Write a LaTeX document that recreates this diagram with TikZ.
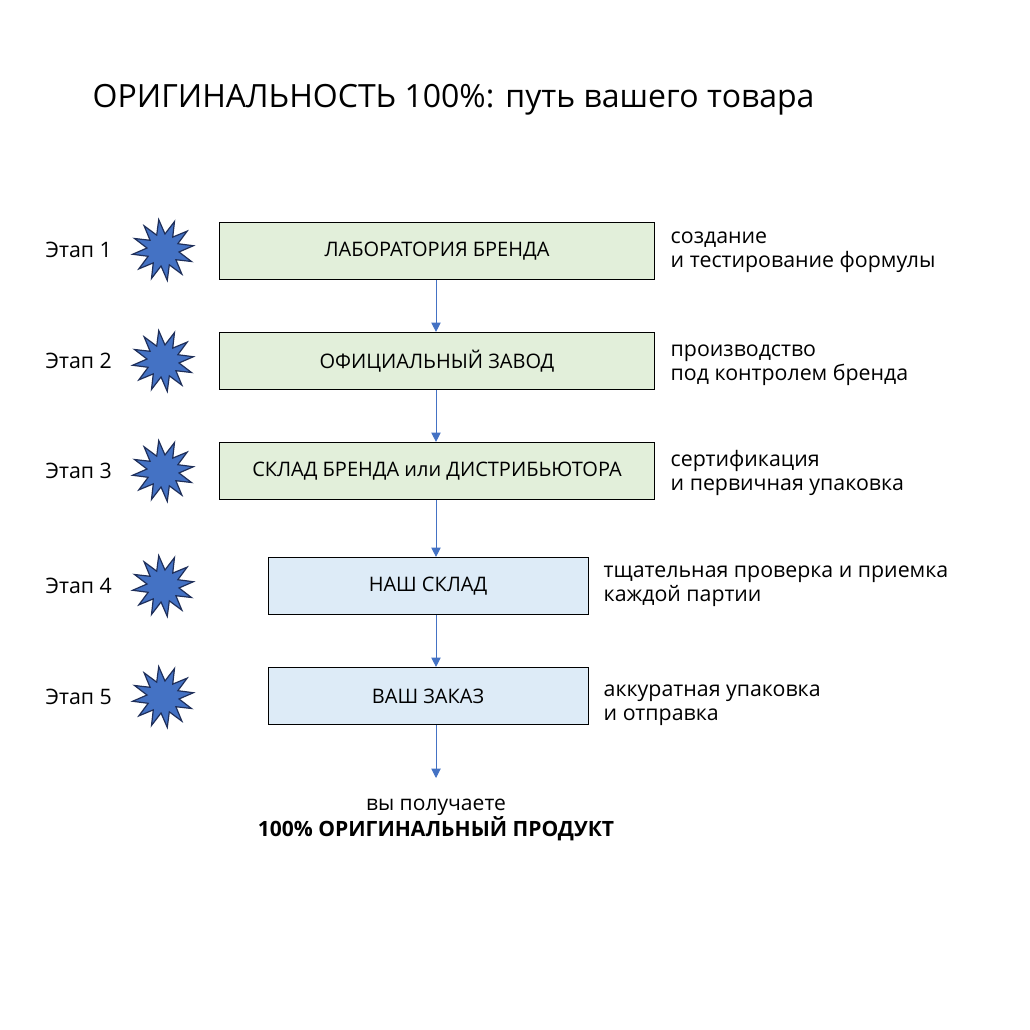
\documentclass[tikz,border=0pt]{standalone}
\usepackage{fontspec}
\setmainfont{Open Sans}
\usetikzlibrary{shapes.geometric,arrows.meta}
\definecolor{grn}{HTML}{E2EFDA}
\definecolor{blu}{HTML}{DDEBF7}
\definecolor{arr}{HTML}{4472C4}
\definecolor{navy}{HTML}{1F2F5A}
\begin{document}
\begin{tikzpicture}[x=0.75pt,y=-0.75pt,
  box/.style={draw=black,line width=0.6pt,font=\fontsize{15}{17}\selectfont,inner sep=0pt},
  gbox/.style={box,fill=grn,minimum width=326pt,minimum height=43pt},
  bbox/.style={box,fill=blu,minimum width=240pt,minimum height=43pt},
  burst/.style={star,star points=12,star point ratio=1.9,minimum size=46pt,inner sep=0pt,fill=arr,draw=navy,line width=0.9pt},
  lab/.style={anchor=west,align=left,font=\fontsize{16}{18}\selectfont},
  stage/.style={anchor=west,font=\fontsize{16}{18}\selectfont},
  con/.style={draw=arr,line width=0.7pt,-{Triangle[length=7pt,width=7pt]}}]
\useasboundingbox (0,0) rectangle (1030,1030);
\node[anchor=base west,font=\fontsize{24}{30}\selectfont] (t) at (88,108) {ОРИГИНАЛЬНОСТЬ 100\%: путь вашего товара};
\node[gbox] (b1) at (437,251) {ЛАБОРАТОРИЯ БРЕНДА};
\node[gbox] (b2) at (437,361) {ОФИЦИАЛЬНЫЙ ЗАВОД};
\node[gbox] (b3) at (437,471) {СКЛАД БРЕНДА или ДИСТРИБЬЮТОРА};
\node[bbox] (b4) at (428,586) {НАШ СКЛАД};
\node[bbox] (b5) at (428,696) {ВАШ ЗАКАЗ};
\coordinate (e) at (436,778);
\node[align=center,font=\fontsize{15.8}{20}\selectfont] (f) at (436,820) {вы получаете\\\textbf{100\% ОРИГИНАЛЬНЫЙ ПРОДУКТ}};
\draw[con] (b1.south -| 436,0) -- (b2.north -| 436,0);
\draw[con] (b2.south -| 436,0) -- (b3.north -| 436,0);
\draw[con] (b3.south -| 436,0) -- (b4.north -| 436,0);
\draw[con] (b4.south -| 436,0) -- (b5.north -| 436,0);
\draw[con] (b5.south -| 436,0) -- (e);
\foreach \i/\y in {1/250,2/361,3/471,4/586,5/697}{
  \node[stage] (s\i) at (41,\y) {Этап \i};
  \node[burst,rotate=8] (k\i) at (163,\y) {};
}
\node[lab] (l1) at (666,252) {создание\\и тестирование формулы};
\node[lab] (l2) at (666,365) {производство\\под контролем бренда};
\node[lab] (l3) at (666,473) {сертификация\\и первичная упаковка};
\node[lab] (l4) at (599,586) {тщательная проверка и приемка\\каждой партии};
\node[lab] (l5) at (599,705) {аккуратная упаковка\\и отправка};
\end{tikzpicture}
\end{document}
